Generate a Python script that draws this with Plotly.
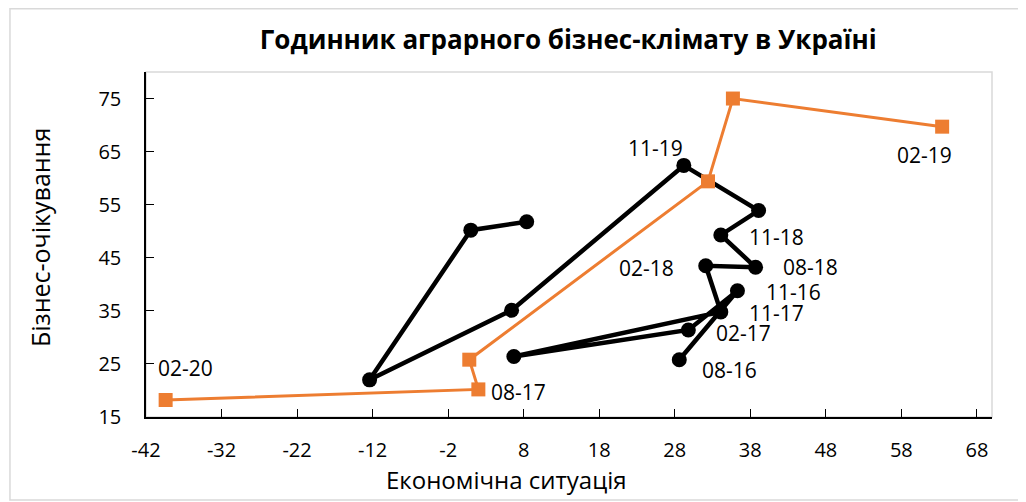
import plotly.graph_objects as go

# Black series (economic situation, business expectations)
black_x = [28.6, 36.3, 29.8, 6.7, 34.1, 32.1, 38.7, 34.1, 39.1, 29.2, 6.4, -12.4, 1.0, 8.4]
black_y = [25.8, 38.8, 31.4, 26.4, 34.8, 43.5, 43.2, 49.3, 53.9, 62.4, 35.1, 22.0, 50.2, 51.8]

# Orange series
orange_x = [63.4, 35.7, 32.4, 0.8, 2.0, -39.4]
orange_y = [69.7, 75.0, 59.4, 25.8, 20.2, 18.2]

# Point labels: (series, point index, text, x offset px, y offset px)
labels = [
    ("black", 0, "08-16", 50, -10),
    ("black", 1, "11-16", 56, -1),
    ("black", 2, "02-17", 55, -3),
    ("black", 4, "11-17", 56, -1),
    ("black", 5, "02-18", -59, -2),
    ("black", 6, "08-18", 55, 0),
    ("black", 7, "11-18", 56, -2),
    ("black", 9, "11-19", -28, 17),
    ("orange", 0, "02-19", -18, -28),
    ("orange", 4, "08-17", 40, -3),
    ("orange", 5, "02-20", 20, 32),
]

x_ticks = [-42, -32, -22, -12, -2, 8, 18, 28, 38, 48, 58, 68]
y_ticks = [15, 25, 35, 45, 55, 65, 75]

TITLE = "Годинник аграрного бізнес-клімату в Україні"
X_TITLE = "Економічна ситуація"
Y_TITLE = "Бізнес-очікування"

FONT = "Open Sans"
ORANGE = "#ED7D31"

fig = go.Figure()
fig.add_trace(go.Scatter(
    x=black_x, y=black_y, mode="lines+markers",
    line=dict(color="black", width=4.5),
    marker=dict(color="black", size=15, symbol="circle"),
    showlegend=False, hoverinfo="x+y",
))
fig.add_trace(go.Scatter(
    x=orange_x, y=orange_y, mode="lines+markers",
    line=dict(color=ORANGE, width=3),
    marker=dict(color=ORANGE, size=14, symbol="square"),
    showlegend=False, hoverinfo="x+y",
))

series = {"black": (black_x, black_y), "orange": (orange_x, orange_y)}
for s, i, t, dx, dy in labels:
    xs, ys = series[s]
    fig.add_annotation(x=xs[i], y=ys[i], text=t, showarrow=False,
                       xshift=dx, yshift=dy,
                       font=dict(family=FONT, size=21, color="black"))

# axis titles
fig.add_annotation(text=X_TITLE, xref="paper", yref="paper", x=0.4267, y=-0.1826,
                   xanchor="center", yanchor="middle", showarrow=False,
                   font=dict(family=FONT, size=24, color="black"))
fig.add_annotation(text=Y_TITLE, xref="paper", yref="paper", x=-0.1253, y=0.5217,
                   xanchor="center", yanchor="middle", showarrow=False, textangle=-90,
                   font=dict(family=FONT, size=25, color="black"))

# plot-area outline and outer chart border
fig.add_shape(type="rect", xref="paper", yref="paper", x0=0, y0=0, x1=1, y1=1,
              line=dict(color="#D9D9D9", width=1.5), layer="below")
fig.add_shape(type="rect", xref="paper", yref="paper",
              x0=-0.1608, y0=-0.2406, x1=1.0355, y1=1.183,
              line=dict(color="#D9D9D9", width=1.5), layer="below")

fig.update_layout(
    width=1026, height=502,
    margin=dict(l=138, r=42, t=64, b=93),
    paper_bgcolor="white", plot_bgcolor="white",
    font=dict(family=FONT, color="black"),
    title=dict(text="<b>" + TITLE + "</b>",
               x=0.546, xanchor="center", y=1 - 32 / 502, yanchor="middle",
               yref="container", font=dict(family=FONT, size=26, color="black")),
    xaxis=dict(range=[-42, 70], tickvals=x_ticks, ticktext=[str(v) for v in x_ticks],
               showgrid=False, zeroline=False, showline=True, linecolor="black",
               linewidth=1.5, ticks="inside", ticklen=8, tickcolor="black",
               tickfont=dict(family=FONT, size=20), ticklabelstandoff=14),
    yaxis=dict(range=[15, 80], tickvals=y_ticks, ticktext=[str(v) for v in y_ticks],
               showgrid=False, zeroline=False, showline=True, linecolor="black",
               linewidth=1.5, ticks="inside", ticklen=8, tickcolor="black",
               tickfont=dict(family=FONT, size=20), ticklabelstandoff=19),
)

fig.write_html("out.html")
